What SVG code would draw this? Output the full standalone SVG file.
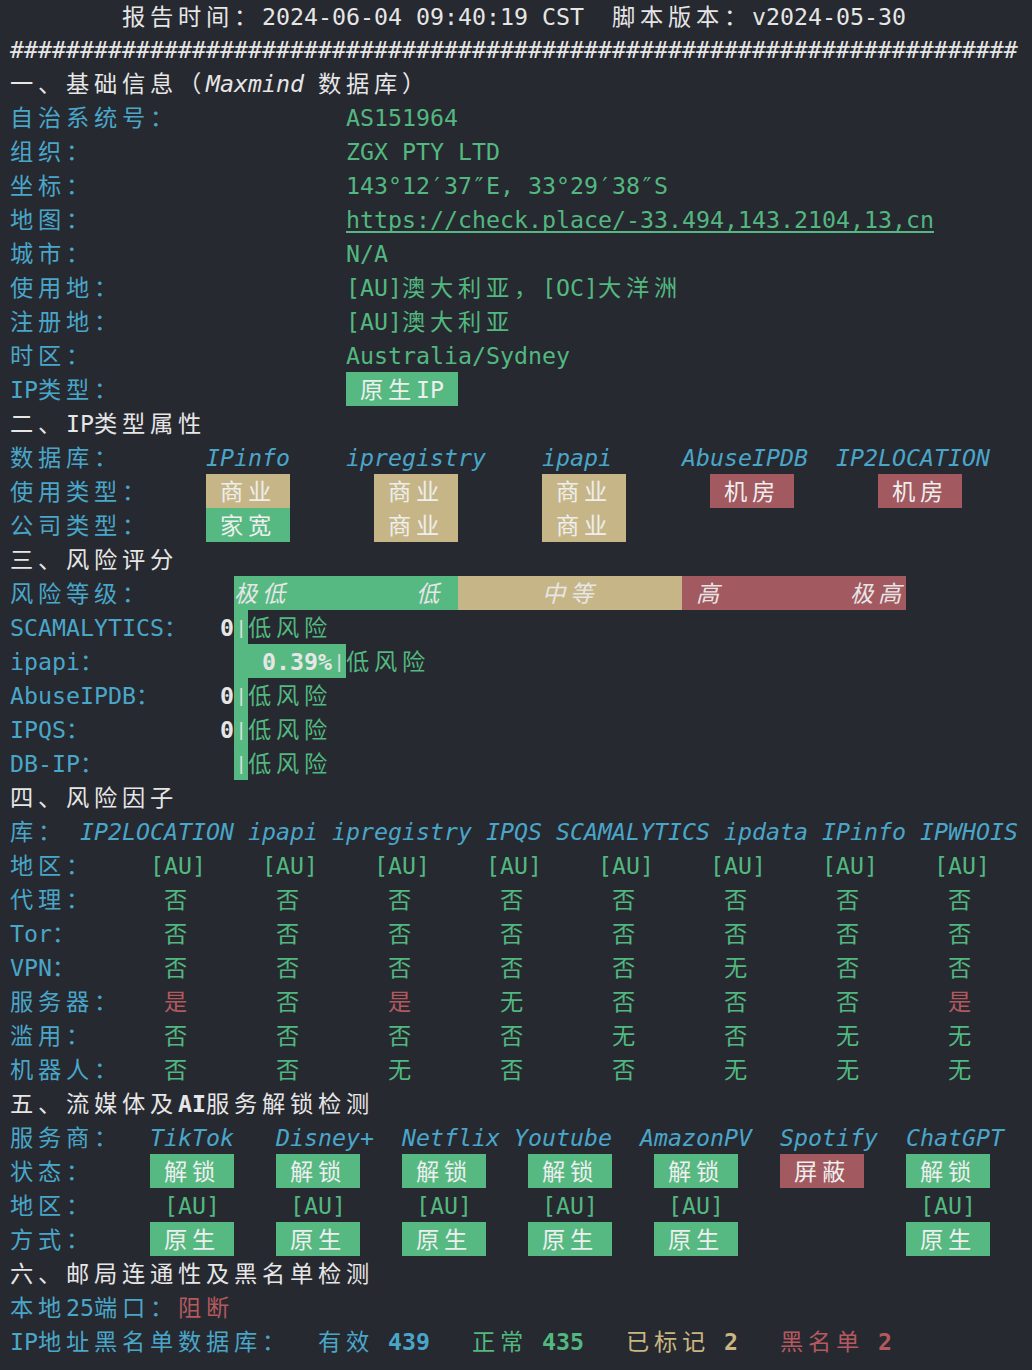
<svg xmlns="http://www.w3.org/2000/svg" width="1032" height="1370" viewBox="0 0 1032 1370">
<style>
text{font-family:"DejaVu Sans Mono","Noto Sans CJK SC",monospace;font-size:23.25px;fill:#e6e6e6}
.c{font-family:"Noto Sans CJK SC","DejaVu Sans Mono",sans-serif;letter-spacing:4.75px}
.b{fill:#4aa6c9}
.g{fill:#52b87f}
.r{fill:#b3595f}
.y{fill:#c9b680}
.i{font-style:italic}
.bd{font-weight:bold}
.bgG{fill:#56b982}
.bgT{fill:#c6b687}
.bgR{fill:#a2595f}
.bx{fill:#eeeeee}
.bar{font-size:17px}
</style>
<rect width="1032" height="1370" fill="#262930"/>

<g id="header">
<text class="c" x="122" y="25">报告时间：</text>
<text x="262" y="25">2024-06-04 09:40:19 CST</text>
<text class="c" x="612" y="25">脚本版本：</text>
<text x="752" y="25">v2024-05-30</text>
<text x="10" y="58">########################################################################</text>
</g>

<g id="section1">
<text class="c" x="10" y="92">一、基础信息（</text>
<text class="i" x="206" y="92">Maxmind</text>
<text class="c" x="318" y="92">数据库）</text>
<text class="c b" x="10" y="126">自治系统号：</text>
<text class="g" x="346" y="126">AS151964</text>
<text class="c b" x="10" y="160">组织：</text>
<text class="g" x="346" y="160">ZGX PTY LTD</text>
<text class="c b" x="10" y="194">坐标：</text>
<text class="g" x="346" y="194">143°12′37″E, 33°29′38″S</text>
<text class="c b" x="10" y="228">地图：</text>
<text class="g" x="346" y="228">https://check.place/-33.494,143.2104,13,cn</text>
<rect class="bgG" x="346" y="231" width="588" height="2"/>
<text class="c b" x="10" y="262">城市：</text>
<text class="g" x="346" y="262">N/A</text>
<text class="c b" x="10" y="296">使用地：</text>
<text class="g" x="346" y="296">[AU]</text>
<text class="c g" x="402" y="296">澳大利亚，</text>
<text class="g" x="542" y="296">[OC]</text>
<text class="c g" x="598" y="296">大洋洲</text>
<text class="c b" x="10" y="330">注册地：</text>
<text class="g" x="346" y="330">[AU]</text>
<text class="c g" x="402" y="330">澳大利亚</text>
<text class="c b" x="10" y="364">时区：</text>
<text class="g" x="346" y="364">Australia/Sydney</text>
<text class="b" x="10" y="398">IP</text>
<text class="c b" x="38" y="398">类型：</text>
<rect class="bgG" x="346" y="372" width="112" height="34"/>
<text class="c bx" x="360" y="398">原生</text>
<text class="bx" x="416" y="398">IP</text>
</g>

<g id="section2">
<text class="c" x="10" y="432">二、</text>
<text x="66" y="432">IP</text>
<text class="c" x="94" y="432">类型属性</text>
<text class="c b" x="10" y="466">数据库：</text>
<text class="b i" x="206" y="466">IPinfo</text>
<text class="b i" x="346" y="466">ipregistry</text>
<text class="b i" x="542" y="466">ipapi</text>
<text class="b i" x="682" y="466">AbuseIPDB</text>
<text class="b i" x="836" y="466">IP2LOCATION</text>
<text class="c b" x="10" y="500">使用类型：</text>
<rect class="bgT" x="206" y="474" width="84" height="34"/>
<rect class="bgT" x="374" y="474" width="84" height="34"/>
<rect class="bgT" x="542" y="474" width="84" height="34"/>
<rect class="bgR" x="710" y="474" width="84" height="34"/>
<rect class="bgR" x="878" y="474" width="84" height="34"/>
<text class="c bx" x="220" y="500">商业</text>
<text class="c bx" x="388" y="500">商业</text>
<text class="c bx" x="556" y="500">商业</text>
<text class="c bx" x="724" y="500">机房</text>
<text class="c bx" x="892" y="500">机房</text>
<text class="c b" x="10" y="534">公司类型：</text>
<rect class="bgG" x="206" y="508" width="84" height="34"/>
<rect class="bgT" x="374" y="508" width="84" height="34"/>
<rect class="bgT" x="542" y="508" width="84" height="34"/>
<text class="c bx" x="220" y="534">家宽</text>
<text class="c bx" x="388" y="534">商业</text>
<text class="c bx" x="556" y="534">商业</text>
</g>

<g id="section3">
<text class="c" x="10" y="568">三、风险评分</text>
<text class="c b" x="10" y="602">风险等级：</text>
<rect class="bgG" x="234" y="576" width="224" height="34"/>
<rect class="bgT" x="458" y="576" width="224" height="34"/>
<rect class="bgR" x="682" y="576" width="224" height="34"/>
<text class="c i" x="234" y="602">极低</text>
<text class="c i" x="416" y="602">低</text>
<text class="c i" x="542" y="602">中等</text>
<text class="c i" x="696" y="602">高</text>
<text class="c i" x="850" y="602">极高</text>
<rect class="bgG" x="234" y="610" width="14" height="170"/>
<rect class="bgG" x="234" y="644" width="112" height="34"/>
<text class="b" x="10" y="636">SCAMALYTICS</text>
<text class="c b" x="164" y="636">：</text>
<text class="bd" x="220" y="636">0</text>
<text class="bar" x="236" y="634">|</text>
<text class="c g" x="248" y="636">低风险</text>
<text class="b" x="10" y="670">ipapi</text>
<text class="c b" x="80" y="670">：</text>
<text class="bd" x="262" y="670">0.39%</text>
<text class="bar" x="334" y="668">|</text>
<text class="c g" x="346" y="670">低风险</text>
<text class="b" x="10" y="704">AbuseIPDB</text>
<text class="c b" x="136" y="704">：</text>
<text class="bd" x="220" y="704">0</text>
<text class="bar" x="236" y="702">|</text>
<text class="c g" x="248" y="704">低风险</text>
<text class="b" x="10" y="738">IPQS</text>
<text class="c b" x="66" y="738">：</text>
<text class="bd" x="220" y="738">0</text>
<text class="bar" x="236" y="736">|</text>
<text class="c g" x="248" y="738">低风险</text>
<text class="b" x="10" y="772">DB-IP</text>
<text class="c b" x="80" y="772">：</text>
<text class="bar" x="236" y="770">|</text>
<text class="c g" x="248" y="772">低风险</text>
</g>

<g id="section4">
<text class="c" x="10" y="806">四、风险因子</text>
<text class="c b" x="10" y="840">库：</text>
<text class="b i" x="80" y="840">IP2LOCATION</text>
<text class="b i" x="248" y="840">ipapi</text>
<text class="b i" x="332" y="840">ipregistry</text>
<text class="b i" x="486" y="840">IPQS</text>
<text class="b i" x="556" y="840">SCAMALYTICS</text>
<text class="b i" x="724" y="840">ipdata</text>
<text class="b i" x="822" y="840">IPinfo</text>
<text class="b i" x="920" y="840">IPWHOIS</text>
<text class="c b" x="10" y="874">地区：</text>
<text class="g" x="150" y="874">[AU]</text>
<text class="g" x="262" y="874">[AU]</text>
<text class="g" x="374" y="874">[AU]</text>
<text class="g" x="486" y="874">[AU]</text>
<text class="g" x="598" y="874">[AU]</text>
<text class="g" x="710" y="874">[AU]</text>
<text class="g" x="822" y="874">[AU]</text>
<text class="g" x="934" y="874">[AU]</text>
<text class="c b" x="10" y="908">代理：</text>
<text class="c g" x="164" y="908">否</text><text class="c g" x="276" y="908">否</text><text class="c g" x="388" y="908">否</text><text class="c g" x="500" y="908">否</text><text class="c g" x="612" y="908">否</text><text class="c g" x="724" y="908">否</text><text class="c g" x="836" y="908">否</text><text class="c g" x="948" y="908">否</text>
<text class="b" x="10" y="942">Tor</text>
<text class="c b" x="52" y="942">：</text>
<text class="c g" x="164" y="942">否</text><text class="c g" x="276" y="942">否</text><text class="c g" x="388" y="942">否</text><text class="c g" x="500" y="942">否</text><text class="c g" x="612" y="942">否</text><text class="c g" x="724" y="942">否</text><text class="c g" x="836" y="942">否</text><text class="c g" x="948" y="942">否</text>
<text class="b" x="10" y="976">VPN</text>
<text class="c b" x="52" y="976">：</text>
<text class="c g" x="164" y="976">否</text><text class="c g" x="276" y="976">否</text><text class="c g" x="388" y="976">否</text><text class="c g" x="500" y="976">否</text><text class="c g" x="612" y="976">否</text><text class="c g" x="724" y="976">无</text><text class="c g" x="836" y="976">否</text><text class="c g" x="948" y="976">否</text>
<text class="c b" x="10" y="1010">服务器：</text>
<text class="c r" x="164" y="1010">是</text><text class="c g" x="276" y="1010">否</text><text class="c r" x="388" y="1010">是</text><text class="c g" x="500" y="1010">无</text><text class="c g" x="612" y="1010">否</text><text class="c g" x="724" y="1010">否</text><text class="c g" x="836" y="1010">否</text><text class="c r" x="948" y="1010">是</text>
<text class="c b" x="10" y="1044">滥用：</text>
<text class="c g" x="164" y="1044">否</text><text class="c g" x="276" y="1044">否</text><text class="c g" x="388" y="1044">否</text><text class="c g" x="500" y="1044">否</text><text class="c g" x="612" y="1044">无</text><text class="c g" x="724" y="1044">否</text><text class="c g" x="836" y="1044">无</text><text class="c g" x="948" y="1044">无</text>
<text class="c b" x="10" y="1078">机器人：</text>
<text class="c g" x="164" y="1078">否</text><text class="c g" x="276" y="1078">否</text><text class="c g" x="388" y="1078">无</text><text class="c g" x="500" y="1078">否</text><text class="c g" x="612" y="1078">否</text><text class="c g" x="724" y="1078">无</text><text class="c g" x="836" y="1078">无</text><text class="c g" x="948" y="1078">无</text>
</g>

<g id="section5">
<text class="c" x="10" y="1112">五、流媒体及</text>
<text class="bd" x="178" y="1112">AI</text>
<text class="c" x="206" y="1112">服务解锁检测</text>
<text class="c b" x="10" y="1146">服务商：</text>
<text class="b i" x="150" y="1146">TikTok</text>
<text class="b i" x="276" y="1146">Disney+</text>
<text class="b i" x="402" y="1146">Netflix</text>
<text class="b i" x="514" y="1146">Youtube</text>
<text class="b i" x="640" y="1146">AmazonPV</text>
<text class="b i" x="780" y="1146">Spotify</text>
<text class="b i" x="906" y="1146">ChatGPT</text>
<text class="c b" x="10" y="1180">状态：</text>
<rect class="bgG" x="150" y="1154" width="84" height="34"/>
<rect class="bgG" x="276" y="1154" width="84" height="34"/>
<rect class="bgG" x="402" y="1154" width="84" height="34"/>
<rect class="bgG" x="528" y="1154" width="84" height="34"/>
<rect class="bgG" x="654" y="1154" width="84" height="34"/>
<rect class="bgR" x="780" y="1154" width="84" height="34"/>
<rect class="bgG" x="906" y="1154" width="84" height="34"/>
<text class="c bx" x="164" y="1180">解锁</text>
<text class="c bx" x="290" y="1180">解锁</text>
<text class="c bx" x="416" y="1180">解锁</text>
<text class="c bx" x="542" y="1180">解锁</text>
<text class="c bx" x="668" y="1180">解锁</text>
<text class="c bx" x="794" y="1180">屏蔽</text>
<text class="c bx" x="920" y="1180">解锁</text>
<text class="c b" x="10" y="1214">地区：</text>
<text class="g" x="164" y="1214">[AU]</text>
<text class="g" x="290" y="1214">[AU]</text>
<text class="g" x="416" y="1214">[AU]</text>
<text class="g" x="542" y="1214">[AU]</text>
<text class="g" x="668" y="1214">[AU]</text>
<text class="g" x="920" y="1214">[AU]</text>
<text class="c b" x="10" y="1248">方式：</text>
<rect class="bgG" x="150" y="1222" width="84" height="34"/>
<rect class="bgG" x="276" y="1222" width="84" height="34"/>
<rect class="bgG" x="402" y="1222" width="84" height="34"/>
<rect class="bgG" x="528" y="1222" width="84" height="34"/>
<rect class="bgG" x="654" y="1222" width="84" height="34"/>
<rect class="bgG" x="906" y="1222" width="84" height="34"/>
<text class="c bx" x="164" y="1248">原生</text>
<text class="c bx" x="290" y="1248">原生</text>
<text class="c bx" x="416" y="1248">原生</text>
<text class="c bx" x="542" y="1248">原生</text>
<text class="c bx" x="668" y="1248">原生</text>
<text class="c bx" x="920" y="1248">原生</text>
</g>

<g id="section6">
<text class="c" x="10" y="1282">六、邮局连通性及黑名单检测</text>
<text class="c b" x="10" y="1316">本地</text>
<text class="b" x="66" y="1316">25</text>
<text class="c b" x="94" y="1316">端口：</text>
<text class="c r" x="178" y="1316">阻断</text>
<text class="b" x="10" y="1350">IP</text>
<text class="c b" x="38" y="1350">地址黑名单数据库：</text>
<text class="c b" x="318" y="1350">有效</text>
<text class="b bd" x="388" y="1350">439</text>
<text class="c g" x="472" y="1350">正常</text>
<text class="g bd" x="542" y="1350">435</text>
<text class="c y" x="626" y="1350">已标记</text>
<text class="y bd" x="724" y="1350">2</text>
<text class="c r" x="780" y="1350">黑名单</text>
<text class="r bd" x="878" y="1350">2</text>
</g>
</svg>
